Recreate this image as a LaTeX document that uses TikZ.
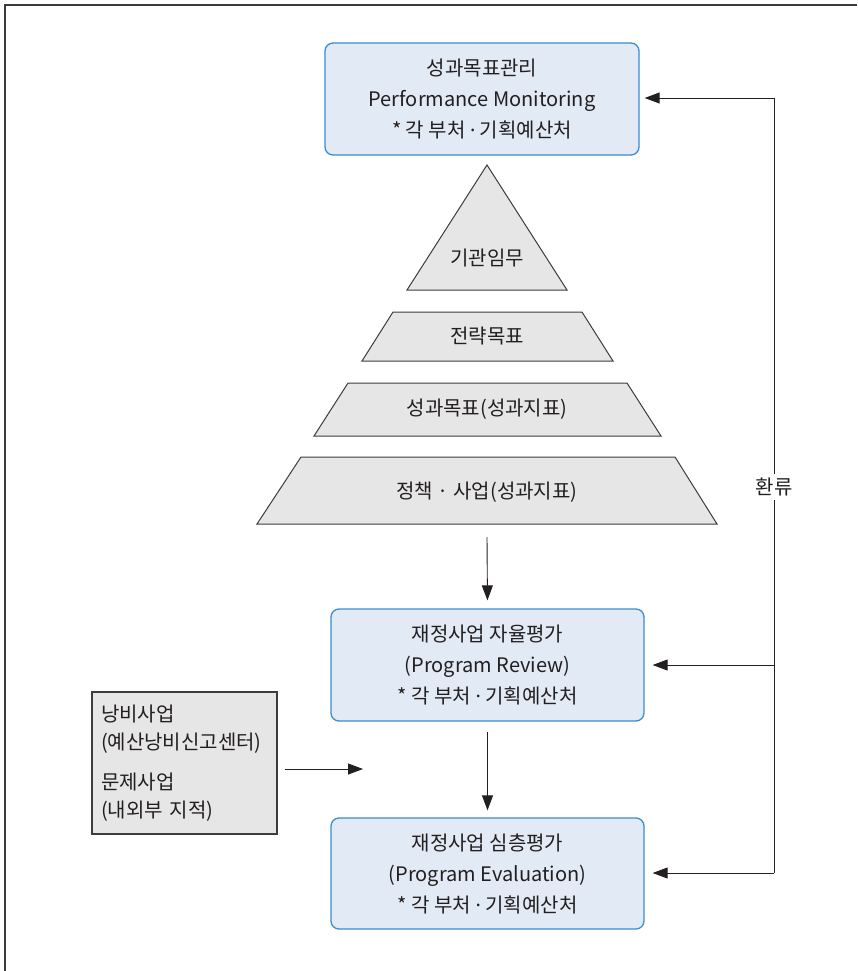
\documentclass[tikz,border=0pt]{standalone}
\usepackage{fontspec}
\setmainfont{Noto Sans CJK KR}
\newfontfamily\latinfont{Noto Sans}
\newcommand{\mdot}{{\latinfont ·}}
\usetikzlibrary{arrows.meta}
\definecolor{boxfill}{HTML}{E2EAF5}
\definecolor{boxline}{HTML}{3A8DD0}
\definecolor{grayfill}{HTML}{E6E6E7}
\definecolor{grayline}{HTML}{3C3C3C}
\definecolor{ink}{HTML}{231F20}
\begin{document}
\begin{tikzpicture}[x=1pt,y=-1pt,
  bluebox/.style={draw=boxline, fill=boxfill, line width=1.3pt, rounded corners=8pt,
    minimum width=313pt, minimum height=112pt, align=center, inner sep=0pt,
    font=\fontsize{20}{31}\selectfont, text=ink},
  graybox/.style={draw=grayline, fill=grayfill, line width=1.2pt,
    minimum width=185pt, minimum height=142pt, text width=167pt, inner xsep=9pt,
    align=left, font=\fontsize{20}{28}\selectfont, text=ink},
  tier/.style={draw=grayline, fill=grayfill, line width=1pt, line join=miter},
  tierlabel/.style={font=\fontsize{20}{24}\selectfont, text=ink, inner sep=0pt},
  conn/.style={draw=ink, line width=0.9pt, -{Triangle[length=15pt,width=11pt]}},
  plain/.style={draw=ink, line width=0.9pt}]
\useasboundingbox (0,0) rectangle (857,971);
% frame
\draw[grayline, line width=2pt] (5,971) -- (5,5) -- (857,5);

% top box
\node[bluebox, minimum width=314pt] (top) at (482,99)
  {성과목표관리\\Performance Monitoring\\* 각 부처 \mdot{} 기획예산처};

% pyramid
\draw[tier] (407,290) -- (487,165) -- (567,290) -- cycle;
\node[tierlabel] (t1) at (487,258) {기관임무};
\draw[tier] (393,312) -- (582,312) -- (613,361) -- (362,361) -- cycle;
\node[tierlabel] (t2) at (487,336) {전략목표};
\draw[tier] (348,383) -- (627,383) -- (661,436) -- (314,436) -- cycle;
\node[tierlabel] (t3) at (487,409) {성과목표(성과지표)};
\draw[tier] (301,457) -- (675,457) -- (717,524) -- (257,524) -- cycle;
\node[tierlabel] (t4) at (487,492) {정책 · 사업(성과지표)};
\coordinate (pyrbot) at (487,537);

% review and evaluation boxes
\node[bluebox] (review) at (487.5,665)
  {재정사업 자율평가\\(Program Review)\\* 각 부처 \mdot{} 기획예산처};
\node[bluebox, minimum height=111pt] (eval) at (487.5,873.5)
  {재정사업 심층평가\\(Program Evaluation)\\* 각 부처 \mdot{} 기획예산처};

% waste box
\node[graybox] (waste) at (184.5,763)
  {낭비사업\\(예산낭비신고센터)\\[12pt]문제사업\\(내외부 지적)};
\coordinate (wasteend) at (363,769);

% vertical arrows
\draw[conn, shorten >=8pt] (pyrbot) -- (review.north);
\draw[conn, shorten <=10pt, shorten >=7pt] (review.south) -- (eval.north);
\draw[conn] ([xshift=7pt]waste.east |- wasteend) -- (wasteend);

% feedback loop
\coordinate (fbtop) at (774,98);
\coordinate (fbbot) at (774,873);
\draw[plain] (fbbot) -- (fbtop);
\draw[conn, shorten >=5pt] (fbtop) -- (top.east |- fbtop);
\draw[conn, shorten >=8pt] (fbtop |- review.east) -- (review.east);
\draw[conn, shorten >=8pt] (fbbot) -- (eval.east |- fbbot);
\node[fill=white, inner xsep=1pt, inner ysep=4pt, font=\fontsize{20}{24}\selectfont, text=ink] (fb) at (774,487) {환류};
\end{tikzpicture}
\end{document}
